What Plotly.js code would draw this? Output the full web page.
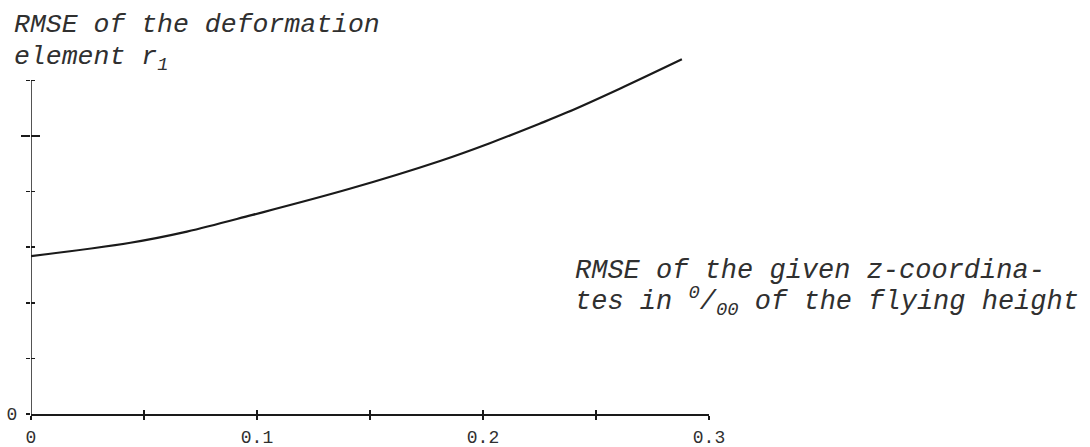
<!DOCTYPE html>
<html>
<head>
<meta charset="utf-8">
<script src="https://cdn.plot.ly/plotly-3.0.1.min.js"></script>
<style>
html,body{margin:0;padding:0;background:#fff;}
#chart{width:1090px;height:447px;}
</style>
</head>
<body>
<div id="chart"></div>
<script>
// Data
const zRmse = [0, 0.044, 0.069, 0.098, 0.141, 0.181, 0.203, 0.225, 0.237, 0.261, 0.288];
const r1Rmse = [2.84, 3.08, 3.28, 3.58, 4.05, 4.55, 4.87, 5.22, 5.42, 5.86, 6.38];
const xTickVals = [0, 0.05, 0.1, 0.15, 0.2, 0.25, 0.3];
const xTickText = ["0", "", "0.1", "", "0.2", "", "0.3"];
const yTickVals = [0, 1, 2, 3, 4, 6];
const yTickText = ["0", "", "", "", "", ""];
const yBigTick = [5];
const yTitleLines = ["RMSE of the deformation", "element r<sub>1</sub>"];
const xTitleLines = ["RMSE of the given z-coordina-", "tes in <sup>0</sup>/<sub>00</sub> of the flying height"];

const ink = "#1a1a1a";
const txt = "#303030";
const mono = "Liberation Mono, Courier New, monospace";

const trace = {
  x: zRmse, y: r1Rmse, type: "scatter", mode: "lines",
  line: {color: ink, width: 2.2, shape: "spline", smoothing: 1},
  hoverinfo: "skip", showlegend: false
};
// invisible companions so the overlaid tick-only axes get drawn
function ghost(xa, ya) {
  return {x: zRmse, y: r1Rmse, type: "scatter", mode: "lines", xaxis: xa, yaxis: ya,
          line: {width: 0, color: "rgba(0,0,0,0)"}, hoverinfo: "skip", showlegend: false};
}

const yRange = [0, 6.51];
const xRange = [0, 0.3];
const baseAx = {showgrid: false, zeroline: false, showline: false, fixedrange: true};

const layout = {
  width: 1090, height: 447,
  margin: {l: 31, r: 381, t: 52, b: 33},
  paper_bgcolor: "#fff", plot_bgcolor: "rgba(0,0,0,0)",
  showlegend: false,
  font: {family: mono, color: ink},
  xaxis: Object.assign({}, baseAx, {
    range: xRange, tickmode: "array", tickvals: xTickVals, ticktext: xTickText,
    ticks: "outside", ticklen: 4, tickwidth: 1.5, tickcolor: ink,
    showline: true, linecolor: ink, linewidth: 2,
    tickfont: {family: mono, size: 18, color: txt}, ticklabelstandoff: 1
  }),
  xaxis2: Object.assign({}, baseAx, {
    overlaying: "x", anchor: "y", range: xRange, tickmode: "array", tickvals: xTickVals.slice(1),
    ticks: "inside", ticklen: 4, tickwidth: 1.5, tickcolor: ink, showticklabels: false
  }),
  yaxis: Object.assign({}, baseAx, {
    range: yRange, tickmode: "array", tickvals: yTickVals, ticktext: yTickText,
    ticks: "outside", ticklen: 4, tickwidth: 1.5, tickcolor: ink,
    tickfont: {family: mono, size: 18, color: txt}, ticklabelstandoff: 5
  }),
  yaxis2: Object.assign({}, baseAx, {
    overlaying: "y", anchor: "x", range: yRange, tickmode: "array", tickvals: yTickVals.slice(1),
    ticks: "inside", ticklen: 4, tickwidth: 1.5, tickcolor: ink, showticklabels: false
  }),
  yaxis3: Object.assign({}, baseAx, {
    overlaying: "y", anchor: "x", range: yRange, tickmode: "array", tickvals: yBigTick,
    ticks: "outside", ticklen: 9, tickwidth: 2, tickcolor: ink, showticklabels: false
  }),
  yaxis4: Object.assign({}, baseAx, {
    overlaying: "y", anchor: "x", range: yRange, tickmode: "array", tickvals: yBigTick,
    ticks: "inside", ticklen: 9, tickwidth: 2, tickcolor: ink, showticklabels: false
  }),
  shapes: [{
    type: "line", xref: "x", yref: "y", x0: 0, x1: 0, y0: 0, y1: 6,
    line: {color: ink, width: 1.5}
  }],
  annotations: [
    {text: yTitleLines[0], xref: "paper", yref: "paper", x: -0.028, y: 1.0746,
     xanchor: "left", yanchor: "middle", align: "left", showarrow: false,
     font: {family: mono, size: 26.5, style: "italic", color: txt}},
    {text: yTitleLines[1], xref: "paper", yref: "paper", x: -0.028, y: 0.981,
     xanchor: "left", yanchor: "middle", align: "left", showarrow: false,
     font: {family: mono, size: 26.5, style: "italic", color: txt}},
    {text: xTitleLines[0], xref: "paper", yref: "paper", x: 0.799, y: 0.394,
     xanchor: "left", yanchor: "middle", align: "left", showarrow: false,
     font: {family: mono, size: 27, style: "italic", color: txt}},
    {text: xTitleLines[1], xref: "paper", yref: "paper", x: 0.799, y: 0.31,
     xanchor: "left", yanchor: "middle", align: "left", showarrow: false,
     font: {family: mono, size: 27, style: "italic", color: txt}}
  ]
};

Plotly.newPlot("chart",
  [trace, ghost("x2", "y"), ghost("x", "y2"), ghost("x", "y3"), ghost("x", "y4")],
  layout, {displayModeBar: false, staticPlot: true});
</script>
</body>
</html>
